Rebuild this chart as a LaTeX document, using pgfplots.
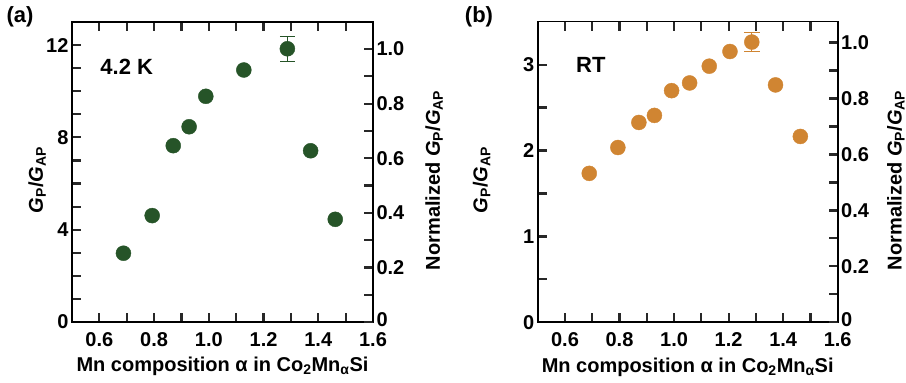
\documentclass[border=0pt]{standalone}
\usepackage{fontspec}
\setmainfont{Liberation Sans}
\usepackage{pgfplots}
\pgfplotsset{compat=1.18}
\definecolor{dkgreen}{RGB}{38,84,40}
\definecolor{orng}{RGB}{208,133,50}
\definecolor{tickc}{RGB}{40,40,40}
\newcommand{\fs}{\fontsize{20}{24}\selectfont\bfseries}
\newcommand{\GG}{\textit{G}\textsubscript{P}/\textit{G}\textsubscript{AP}}
\pgfplotsset{
  common/.style={scale only axis, xmin=0.5, xmax=1.6,
    axis line style={line width=1.6pt},
    tick align=inside,
    major tick length=9pt, minor tick length=9pt,
    every major tick/.append style={line width=2.2pt, tickc},
    every minor tick/.append style={line width=2.2pt, tickc},
    tick label style={font=\fs}, label style={font=\fs}},
  xpart/.style={xtick={0.6,0.8,1.0,1.2,1.4,1.6}, xticklabels={0.6,0.8,1.0,1.2,1.4,1.6},
    minor xtick={0.7,0.9,1.1,1.3,1.5}, xtick pos=both, xticklabel pos=lower,
    xticklabel style={yshift=-7pt},
    xlabel={Mn composition α in Co\textsubscript{2}Mn\textsubscript{α}Si},
    xlabel style={at={(axis description cs:0.5,-0.166)}, anchor=base}},
  rpart/.style={axis y line*=right, axis x line=none, ymin=0,
    ytick={0,0.2,0.4,0.6,0.8,1.0}, yticklabels={\raisebox{5pt}{0},0.2,0.4,0.6,0.8,1.0},
    minor ytick={0.1,0.3,0.5,0.7,0.9},
    ylabel={Normalized \GG}},
  dots/.style={only marks, mark=*, mark size=7.5pt},
}
\begin{document}
\begin{tikzpicture}
\useasboundingbox (0pt,0pt) rectangle (906pt,383pt);
\node[font=\fontsize{22}{26}\selectfont\bfseries] at (20pt,366pt) {(a)};
\node[font=\fontsize{22}{26}\selectfont\bfseries] at (479pt,366pt) {(b)};
% ---------- panel (a)
\begin{axis}[common, xpart, at={(72pt,61pt)}, anchor=south west, width=301pt, height=300pt,
  ymin=0, ymax=13, ytick={0,4,8,12}, yticklabels={0,4,8,12},
  minor ytick={1,2,3,5,6,7,9,10,11}, ytick pos=left,
  ylabel={\GG}, ylabel style={at={(axis description cs:-0.116,0.473)}, anchor=center}]
\addplot[dots, color=dkgreen] coordinates {
 (0.688,2.98) (0.793,4.61) (0.870,7.64) (0.928,8.46) (0.989,9.78)
 (1.128,10.92) (1.372,7.42) (1.462,4.45)};
\addplot[dots, color=dkgreen, error bars/.cd, y dir=both, y explicit,
  error bar style={line width=1.1pt, dkgreen},
  error mark options={rotate=90, line width=1.1pt, mark size=7.5pt, dkgreen}]
  coordinates {(1.287,11.84) +- (0,0.55)};
\node[font=\fontsize{22}{26}\selectfont\bfseries, anchor=west] at (axis cs:0.591,11.06) {4.2 K};
\end{axis}
\begin{axis}[common, rpart, at={(72pt,61pt)}, anchor=south west, width=301pt, height=300pt,
  ymax=1.099, ylabel style={at={(axis description cs:1.203,0.473)}, anchor=center}]
\end{axis}
% ---------- panel (b)
\begin{axis}[common, xpart, at={(537.7pt,60.7pt)}, anchor=south west, width=300pt, height=300.6pt,
  ymin=0, ymax=3.5, ytick={0,1,2,3}, yticklabels={0,1,2,3},
  minor ytick={0.5,1.5,2.5}, ytick pos=left,
  ylabel={\GG}, ylabel style={at={(axis description cs:-0.187,0.473)}, anchor=center}]
\addplot[dots, color=orng] coordinates {
 (0.689,1.734) (0.794,2.035) (0.871,2.327) (0.928,2.409) (0.991,2.697)
 (1.057,2.787) (1.129,2.982) (1.205,3.153) (1.372,2.764) (1.463,2.164)};
\addplot[dots, color=orng, error bars/.cd, y dir=both, y explicit,
  error bar style={line width=1.1pt, orng},
  error mark options={rotate=90, line width=1.1pt, mark size=8pt, orng}]
  coordinates {(1.285,3.263) +- (0,0.107)};
\node[font=\fontsize{22}{26}\selectfont\bfseries, anchor=west] at (axis cs:0.628,3.0) {RT};
\end{axis}
\begin{axis}[common, rpart, at={(537.7pt,60.7pt)}, anchor=south west, width=300pt, height=300.6pt,
  ymax=1.0746, ylabel style={at={(axis description cs:1.194,0.473)}, anchor=center}]
\end{axis}
\end{tikzpicture}
\end{document}
